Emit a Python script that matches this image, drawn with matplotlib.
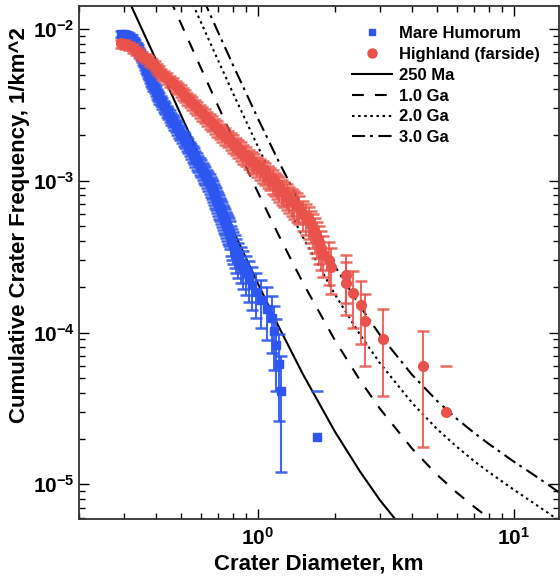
import matplotlib
matplotlib.use('Agg')
import matplotlib.pyplot as plt
import numpy as np
from matplotlib.lines import Line2D
from matplotlib.ticker import FuncFormatter, LogLocator, NullFormatter

plt.rcParams['font.family'] = ['Liberation Sans', 'DejaVu Sans']
plt.rcParams['font.weight'] = 'bold'
plt.rcParams['mathtext.fontset'] = 'custom'
plt.rcParams['mathtext.rm'] = 'Liberation Sans:bold'
plt.rcParams['mathtext.bf'] = 'Liberation Sans:bold'
plt.rcParams['lines.scale_dashes'] = False

# Mare Humorum, cumulative crater frequency (1/km^2) vs diameter (km)
mare_d = [0.2916, 0.2996, 0.3078, 0.3149,
          0.3219, 0.3278, 0.3322, 0.3367, 0.3398, 0.3429, 0.3460, 0.3491, 0.3523, 0.3570,
          0.3602, 0.3635, 0.3668, 0.3701, 0.3734, 0.3768, 0.3802, 0.3837, 0.3871, 0.3906,
          0.3959, 0.3995, 0.4049, 0.4086, 0.4123, 0.4179, 0.4235, 0.4293, 0.4351, 0.4410,
          0.4470, 0.4531, 0.4592, 0.4655, 0.4718, 0.4782, 0.4847, 0.4913, 0.4980, 0.5047,
          0.5139, 0.5208, 0.5281, 0.5352, 0.5425, 0.5498, 0.5573, 0.5649, 0.5700, 0.5777,
          0.5856, 0.5935, 0.6016, 0.6097, 0.6152, 0.6236, 0.6320, 0.6406, 0.6494, 0.6552,
          0.6611, 0.6671, 0.6731, 0.6792, 0.6853, 0.6915, 0.6978, 0.7041, 0.7104, 0.7169,
          0.7233, 0.7299, 0.7365, 0.7432, 0.7499, 0.7567, 0.7635, 0.7705, 0.7774,
          0.785, 0.792, 0.802, 0.813, 0.824, 0.839, 0.855, 0.874, 0.898, 0.922,
          0.948, 0.982, 1.027, 1.084, 1.134, 1.155, 1.176, 1.208, 1.230, 1.700]
mare_n = [9.27e-3, 9.23e-3, 9.13e-3, 8.92e-3,
          8.66e-3, 8.34e-3, 8.03e-3, 7.73e-3, 7.44e-3, 7.16e-3, 6.90e-3, 6.64e-3, 6.39e-3, 6.16e-3,
          5.93e-3, 5.71e-3, 5.49e-3, 5.29e-3, 5.09e-3, 4.90e-3, 4.72e-3, 4.54e-3, 4.38e-3, 4.21e-3,
          4.06e-3, 3.91e-3, 3.76e-3, 3.62e-3, 3.49e-3, 3.36e-3, 3.23e-3, 3.11e-3, 3.00e-3, 2.88e-3,
          2.78e-3, 2.67e-3, 2.57e-3, 2.48e-3, 2.39e-3, 2.30e-3, 2.21e-3, 2.13e-3, 2.05e-3, 1.97e-3,
          1.90e-3, 1.83e-3, 1.76e-3, 1.70e-3, 1.63e-3, 1.57e-3, 1.51e-3, 1.46e-3, 1.40e-3, 1.35e-3,
          1.30e-3, 1.25e-3, 1.21e-3, 1.16e-3, 1.12e-3, 1.08e-3, 1.04e-3, 9.97e-4, 9.60e-4, 9.24e-4,
          8.90e-4, 8.57e-4, 8.25e-4, 7.94e-4, 7.64e-4, 7.36e-4, 7.09e-4, 6.82e-4, 6.57e-4, 6.32e-4,
          6.09e-4, 5.86e-4, 5.64e-4, 5.43e-4, 5.23e-4, 5.04e-4, 4.85e-4, 4.67e-4, 4.49e-4,
          4.12e-4, 3.92e-4, 3.71e-4, 3.51e-4, 3.30e-4, 3.09e-4, 2.89e-4, 2.68e-4, 2.47e-4, 2.27e-4,
          2.06e-4, 1.86e-4, 1.65e-4, 1.44e-4, 1.24e-4, 1.03e-4, 8.25e-5, 6.19e-5, 4.12e-5, 2.06e-5]
mare_err = [4.37e-4, 4.36e-4, 4.34e-4, 4.29e-4,
            4.23e-4, 4.15e-4, 4.07e-4, 3.99e-4, 3.92e-4, 3.84e-4, 3.77e-4, 3.70e-4, 3.63e-4, 3.56e-4,
            3.50e-4, 3.43e-4, 3.36e-4, 3.30e-4, 3.24e-4, 3.18e-4, 3.12e-4, 3.06e-4, 3.01e-4, 2.95e-4,
            2.89e-4, 2.84e-4, 2.78e-4, 2.73e-4, 2.68e-4, 2.63e-4, 2.58e-4, 2.53e-4, 2.49e-4, 2.44e-4,
            2.39e-4, 2.35e-4, 2.30e-4, 2.26e-4, 2.22e-4, 2.18e-4, 2.13e-4, 2.10e-4, 2.06e-4, 2.02e-4,
            1.98e-4, 1.94e-4, 1.91e-4, 1.87e-4, 1.83e-4, 1.80e-4, 1.76e-4, 1.74e-4, 1.70e-4, 1.67e-4,
            1.64e-4, 1.61e-4, 1.58e-4, 1.55e-4, 1.52e-4, 1.49e-4, 1.46e-4, 1.43e-4, 1.41e-4, 1.38e-4,
            1.35e-4, 1.33e-4, 1.30e-4, 1.28e-4, 1.26e-4, 1.23e-4, 1.21e-4, 1.19e-4, 1.16e-4, 1.14e-4,
            1.12e-4, 1.10e-4, 1.08e-4, 1.06e-4, 1.04e-4, 1.02e-4, 1.00e-4, 9.81e-5, 9.62e-5,
            9.22e-5, 8.99e-5, 8.75e-5, 8.50e-5, 8.25e-5, 7.99e-5, 7.71e-5, 7.43e-5, 7.14e-5, 6.84e-5,
            6.52e-5, 6.19e-5, 5.83e-5, 5.45e-5, 5.05e-5, 4.61e-5, 4.12e-5, 3.57e-5, 2.92e-5, 2.06e-5]

# Highland (farside)
high_d = [0.2916, 0.3023, 0.3135,
          0.3248, 0.3337, 0.3419, 0.3529, 0.3641, 0.3758, 0.3871, 0.3959, 0.4045, 0.4119,
          0.4198, 0.4293, 0.4395, 0.4515, 0.4638, 0.4765, 0.4891, 0.5002, 0.5111, 0.5204,
          0.5303, 0.5425, 0.5548, 0.5674, 0.5803, 0.5935, 0.6070, 0.6208, 0.6349, 0.6494,
          0.6641, 0.6792, 0.6946, 0.7104, 0.7266, 0.7432, 0.7608, 0.7816, 0.8023, 0.8205,
          0.8392, 0.8583, 0.8778, 0.8977, 0.9190, 0.9441, 0.9690, 0.9910, 1.0145, 1.0422,
          1.0698, 1.0942, 1.1190, 1.1445, 1.1695, 1.1907, 1.2134, 1.2409, 1.2691, 1.2979,
          1.3274, 1.3575, 1.3884, 1.4199, 1.4530,
          1.499, 1.540, 1.582, 1.611, 1.640, 1.670, 1.700, 1.730, 1.762, 1.794,
          1.894, 1.923, 2.20, 2.20, 2.35, 2.52, 2.61, 3.08, 4.41, 5.41]
high_n = [8.03e-3, 7.91e-3, 7.73e-3,
          7.44e-3, 7.16e-3, 6.90e-3, 6.64e-3, 6.39e-3, 6.16e-3, 5.93e-3, 5.71e-3, 5.49e-3, 5.29e-3,
          5.09e-3, 4.90e-3, 4.72e-3, 4.54e-3, 4.38e-3, 4.21e-3, 4.06e-3, 3.91e-3, 3.76e-3, 3.62e-3,
          3.49e-3, 3.36e-3, 3.23e-3, 3.11e-3, 3.00e-3, 2.88e-3, 2.78e-3, 2.67e-3, 2.57e-3, 2.48e-3,
          2.39e-3, 2.30e-3, 2.21e-3, 2.13e-3, 2.05e-3, 1.97e-3, 1.90e-3, 1.83e-3, 1.76e-3, 1.70e-3,
          1.63e-3, 1.57e-3, 1.51e-3, 1.46e-3, 1.40e-3, 1.35e-3, 1.30e-3, 1.25e-3, 1.21e-3, 1.16e-3,
          1.12e-3, 1.08e-3, 1.04e-3, 9.97e-4, 9.60e-4, 9.24e-4, 8.90e-4, 8.57e-4, 8.25e-4, 7.94e-4,
          7.64e-4, 7.36e-4, 7.09e-4, 6.82e-4, 6.57e-4,
          6.02e-4, 5.72e-4, 5.42e-4, 5.12e-4, 4.82e-4, 4.52e-4, 4.22e-4, 3.92e-4, 3.61e-4, 3.31e-4,
          3.01e-4, 2.71e-4, 2.41e-4, 2.11e-4, 1.81e-4, 1.51e-4, 1.20e-4, 9.04e-5, 6.02e-5, 3.01e-5]
high_err = [4.92e-4, 4.88e-4, 4.83e-4,
            4.73e-4, 4.64e-4, 4.56e-4, 4.47e-4, 4.39e-4, 4.31e-4, 4.23e-4, 4.15e-4, 4.07e-4, 3.99e-4,
            3.92e-4, 3.84e-4, 3.77e-4, 3.70e-4, 3.63e-4, 3.56e-4, 3.50e-4, 3.43e-4, 3.37e-4, 3.30e-4,
            3.24e-4, 3.18e-4, 3.12e-4, 3.06e-4, 3.01e-4, 2.95e-4, 2.89e-4, 2.84e-4, 2.78e-4, 2.73e-4,
            2.68e-4, 2.63e-4, 2.58e-4, 2.53e-4, 2.49e-4, 2.44e-4, 2.39e-4, 2.35e-4, 2.30e-4, 2.26e-4,
            2.22e-4, 2.17e-4, 2.13e-4, 2.10e-4, 2.05e-4, 2.02e-4, 1.98e-4, 1.94e-4, 1.91e-4, 1.87e-4,
            1.84e-4, 1.80e-4, 1.77e-4, 1.73e-4, 1.70e-4, 1.67e-4, 1.64e-4, 1.61e-4, 1.58e-4, 1.55e-4,
            1.52e-4, 1.49e-4, 1.46e-4, 1.43e-4, 1.41e-4,
            1.35e-4, 1.31e-4, 1.28e-4, 1.24e-4, 1.21e-4, 1.17e-4, 1.13e-4, 1.09e-4, 1.04e-4, 9.99e-5,
            9.52e-5, 9.04e-5, 8.52e-5, 7.97e-5, 7.38e-5, 6.74e-5, 6.02e-5, 5.22e-5, 4.26e-5, 3.01e-5]

# isochrons
iso250_d = [0.3, 0.35, 0.4, 0.5, 0.6, 0.7, 0.8, 1.0, 1.2, 1.5, 2.0, 2.5, 3.0, 4.0]
iso250_n = [1.80e-2, 1.02e-2, 6.26e-3, 2.72e-3, 1.37e-3, 7.71e-4, 4.70e-4, 2.10e-4,
            1.11e-4, 5.30e-5, 2.22e-5, 1.22e-5, 7.84e-6, 4.30e-6]
iso1_d = [0.4, 0.5, 0.6, 0.7, 0.8, 1.0, 1.2, 1.5, 2.0, 2.5, 3.0, 4.0, 5.0, 6.0, 7.0, 8.0, 10.0]
iso1_n = [2.51e-2, 1.09e-2, 5.49e-3, 3.09e-3, 1.88e-3, 8.38e-4, 4.44e-4, 2.12e-4, 8.88e-5,
          4.87e-5, 3.14e-5, 1.72e-5, 1.16e-5, 8.78e-6, 7.10e-6, 5.99e-6, 4.60e-6]
iso2_d = [0.5, 0.6, 0.7, 0.8, 1.0, 1.2, 1.5, 2.0, 2.5, 3.0, 4.0, 5.0, 6.0, 7.0, 8.0, 10.0, 12.0, 15.0]
iso2_n = [2.18e-2, 1.10e-2, 6.17e-3, 3.76e-3, 1.68e-3, 8.87e-4, 4.24e-4, 1.78e-4, 9.74e-5,
          6.27e-5, 3.44e-5, 2.32e-5, 1.76e-5, 1.42e-5, 1.20e-5, 9.21e-6, 7.48e-6, 5.78e-6]
iso3_d = [0.5, 0.6, 0.7, 0.8, 1.0, 1.2, 1.5, 2.0, 2.5, 3.0, 4.0, 5.0, 6.0, 7.0, 8.0, 10.0, 12.0, 15.0]
iso3_n = [3.34e-2, 1.69e-2, 9.47e-3, 5.77e-3, 2.57e-3, 1.36e-3, 6.51e-4, 2.73e-4, 1.50e-4,
          9.62e-5, 5.27e-5, 3.56e-5, 2.69e-5, 2.18e-5, 1.84e-5, 1.41e-5, 1.15e-5, 8.87e-6]

blue = '#2c56ef'
red = '#e8524a'

dashed = (0, (8.5, 8.0))
dotted = (0, (1.8, 2.6))
dashdot = (0, (9.5, 3.5, 2.0, 4.0))

fig = plt.figure(figsize=(5.6, 5.76), dpi=100)
ax = fig.add_axes([79 / 560, 1 - 519 / 576, 480 / 560, 513 / 576])
ax.set_xscale('log')
ax.set_yscale('log', nonpositive='mask')

ax.plot(iso250_d, iso250_n, color='k', lw=1.5, ls='-', zorder=2)
ax.plot(iso1_d, iso1_n, color='k', lw=1.5, ls=dashed, zorder=2)
ax.plot(iso2_d, iso2_n, color='k', lw=1.5, ls=dotted, zorder=2)
ax.plot(iso3_d, iso3_n, color='k', lw=1.5, ls=dashdot, zorder=2)

eb = ax.errorbar(mare_d, mare_n, yerr=mare_err, fmt='s', ms=6.0, color=blue, mec=blue,
                 ecolor=blue, elinewidth=1.5, capsize=4.5, capthick=1.8, zorder=3)
for c in eb[1] + eb[2]:
    c.set_alpha(0.9)
eb = ax.errorbar(high_d, high_n, yerr=high_err, fmt='o', ms=7.0, color=red, mec=red,
                 ecolor=red, elinewidth=1.5, capsize=4.2, capthick=1.8, zorder=4)
for c in eb[1] + eb[2]:
    c.set_alpha(0.85)

ax.set_xlim(0.2, 15)
ax.set_ylim(5.91e-6, 1.417e-2)

fmt = FuncFormatter(lambda v, p: r'$\mathbf{10^{%d}}$' % round(np.log10(v)))
for axis in (ax.xaxis, ax.yaxis):
    axis.set_major_locator(LogLocator(base=10))
    axis.set_minor_locator(LogLocator(base=10, subs=range(2, 10), numticks=20))
    axis.set_major_formatter(fmt)
    axis.set_minor_formatter(NullFormatter())
ax.tick_params(which='both', direction='in', top=True, right=True, width=1, labelsize=15)
ax.tick_params(which='major', length=7)
ax.tick_params(which='minor', length=4)
ax.tick_params(axis='y', pad=3)
ax.tick_params(axis='x', pad=6)
for s in ax.spines.values():
    s.set_linewidth(1.3)
    s.set_color('#333333')

ax.set_xlabel('Crater Diameter, km', fontsize=16, fontweight='bold', labelpad=3)
ax.set_ylabel('Cumulative Crater Frequency, 1/km^2', fontsize=16, fontweight='bold')
ax.yaxis.set_label_coords(-0.102, 0.573)

handles = [
    Line2D([], [], ls='none', marker='s', ms=5, color=blue),
    Line2D([], [], ls='none', marker='o', ms=6.5, color=red),
    Line2D([], [], color='k', lw=1.5, ls='-'),
    Line2D([], [], color='k', lw=1.5, ls=dashed),
    Line2D([], [], color='k', lw=1.5, ls=dotted),
    Line2D([], [], color='k', lw=1.5, ls=dashdot),
]
labels = ['Mare Humorum', 'Highland (farside)', '250 Ma', '1.0 Ga', '2.0 Ga', '3.0 Ga']
ax.legend(handles, labels, loc='upper left', bbox_to_anchor=(0.569, 0.961), frameon=False,
          prop={'size': 12, 'weight': 'bold'}, handlelength=2.4, handletextpad=0.4,
          labelspacing=0.35, borderpad=0, borderaxespad=0, numpoints=1)

fig.savefig('out.png', dpi=100)
